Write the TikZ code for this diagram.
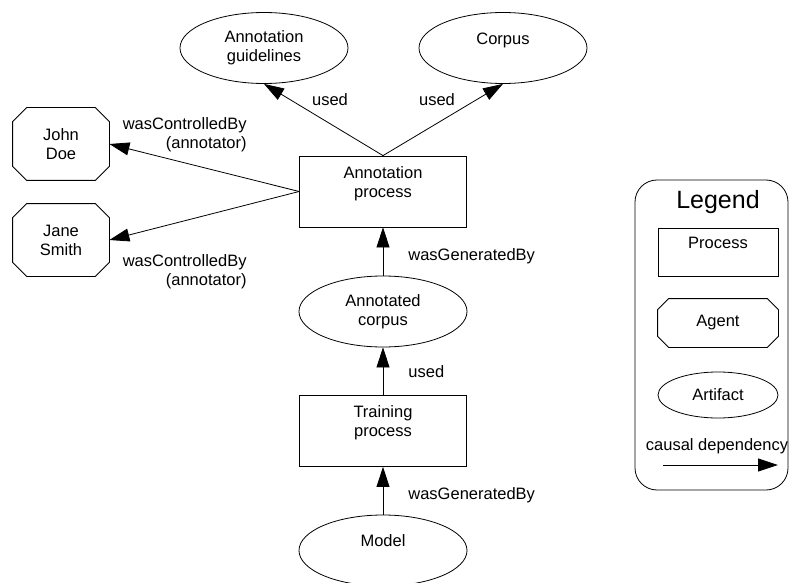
\documentclass[tikz,border=0pt]{standalone}
\usepackage{fontspec}
\setmainfont{Liberation Sans}
\usetikzlibrary{shapes.geometric,arrows.meta}
\begin{document}
\begin{tikzpicture}[x=1pt,y=-1pt,
  font=\fontsize{16.5}{19}\selectfont,
  line width=0.8pt,
  artifact/.style={draw,ellipse,inner sep=0pt,minimum width=168pt,minimum height=71pt,align=center},
  process/.style={draw,rectangle,inner sep=0pt,minimum width=167pt,minimum height=71pt,align=center},
  agent/.style={rectangle,inner sep=0pt,minimum width=96pt,minimum height=72pt,align=center},
  dep/.style={-{Triangle[length=20pt,width=13pt]}},
  elabel/.style={inner sep=0pt,align=right}]
\useasboundingbox (0,0) rectangle (790,583);

% artifacts
\node[artifact] (guide) at (264,48) {Annotation\\guidelines};
\node[artifact] (corpus) at (503,48) {Corpus\\~};
\node[artifact] (acorpus) at (383,311.5) {Annotated\\corpus};
\node[artifact] (model) at (383,550.5) {Model\\~};

% processes
\node[process] (proc) at (383,191.5) {Annotation\\process\\~};
\node[process] (train) at (383,431) {Training\\process\\~};

% agents
\node[agent] (john) at (61,144) {John\\Doe};
\node[agent] (jane) at (61,240) {Jane\\Smith};

% causal dependencies
\draw[dep] (proc.north) -- (guide.south);
\draw[dep] (proc.north) -- (corpus.south);
\draw[dep] (proc.west) -- (john.east);
\draw[dep] (proc.west) -- (jane.east);
\draw[dep] (acorpus.north) -- (proc.south);
\draw[dep] (train.north) -- (acorpus.south);
\draw[dep] (model.north) -- (train.south);

% edge labels
\node[elabel] (lused1) at (330,100) {used};
\node[elabel] (lused2) at (437,100) {used};
\node[elabel,anchor=east] (lctrl1) at (247,135) {wasControlledBy\\(annotator)};
\node[elabel,anchor=east] (lctrl2) at (247,271.5) {wasControlledBy\\(annotator)};
\node[elabel,anchor=west] (lgen1) at (408,256) {wasGeneratedBy};
\node[elabel,anchor=west] (lused3) at (408,372) {used};
\node[elabel,anchor=west] (lgen2) at (408,495) {wasGeneratedBy};

% legend
\node[draw,rounded corners=22pt,minimum width=153pt,minimum height=310pt,inner sep=0pt] (legend) at (711.5,335) {};
\node[inner sep=0pt,font=\fontsize{25}{30}\selectfont] (legtitle) at (718,202) {Legend};
\node[process,minimum width=120pt,minimum height=48pt] (lproc) at (718,252) {Process\\~};
\node[agent,minimum width=120pt,minimum height=48pt] (lagent) at (718,323) {Agent};
\node[artifact,minimum width=120pt,minimum height=46pt] (lart) at (718,395) {Artifact};
\node[inner sep=0pt] (lcausal) at (717,446) {causal dependency};
\coordinate (la) at (663,465);
\coordinate (lb) at (778,465);
\draw[dep] (la) -- (lb);

% octagonal outlines of the agent nodes
\foreach \n/\c in {john/14pt,jane/14pt,lagent/11pt}
  \draw ([xshift=\c]\n.north west) -- ([xshift=-\c]\n.north east)
     -- ([yshift=-\c]\n.north east) -- ([yshift=\c]\n.south east)
     -- ([xshift=-\c]\n.south east) -- ([xshift=\c]\n.south west)
     -- ([yshift=\c]\n.south west) -- ([yshift=-\c]\n.north west) -- cycle;
\end{tikzpicture}
\end{document}
